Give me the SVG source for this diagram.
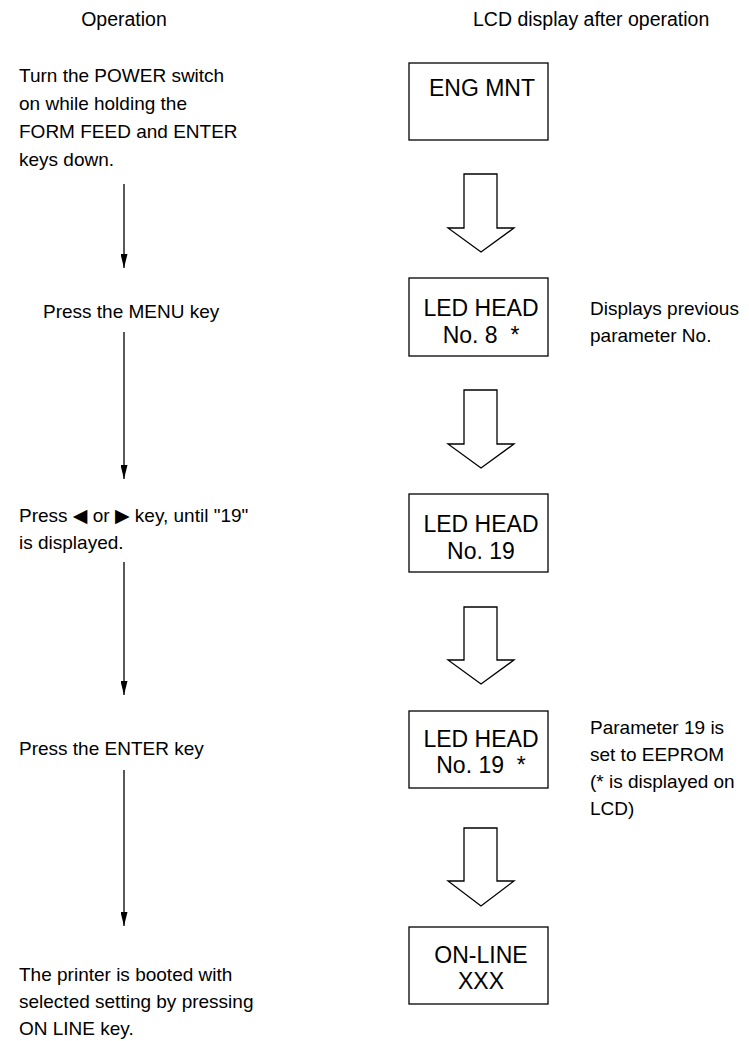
<svg xmlns="http://www.w3.org/2000/svg" width="749" height="1041" viewBox="0 0 749 1041">
<style>
text{font-family:"Liberation Sans",Arial,sans-serif;fill:#000}
.h{font-size:19.5px}
.t{font-size:19px}
.b{font-size:23px;text-anchor:middle}
.box{fill:#fff;stroke:#000;stroke-width:1.3}
.ha{fill:#fff;stroke:#000;stroke-width:1.3;stroke-linejoin:miter}
.ln{stroke:#000;stroke-width:1.3;fill:none}
.sym{font-family:"DejaVu Sans",sans-serif}
</style>
<defs>
<marker id="ah" viewBox="0 0 14 7" refX="14" refY="3.5" markerWidth="14" markerHeight="7" markerUnits="userSpaceOnUse" orient="auto">
<path d="M0,0 L14,3.5 L0,7 z" fill="#000"/>
</marker>
</defs>
<g id="headers">
<text class="h" x="124" y="26" text-anchor="middle">Operation</text>
<text class="h" x="473" y="26">LCD display after operation</text>
</g>
<g id="op1">
<text class="t" x="19" y="82">Turn the POWER switch</text>
<text class="t" x="19" y="110">on while holding the</text>
<text class="t" x="19" y="138">FORM FEED and ENTER</text>
<text class="t" x="19" y="166">keys down.</text>
</g>
<g id="op2"><text class="t" x="43" y="318">Press the MENU key</text></g>
<g id="op3">
<text class="t" x="19" y="522">Press <tspan class="sym">◀</tspan> or <tspan class="sym">▶</tspan> key, until "19"</text>
<text class="t" x="19" y="549">is displayed.</text>
</g>
<g id="op4"><text class="t" x="19" y="755">Press the ENTER key</text></g>
<g id="op5">
<text class="t" x="19" y="981">The printer is booted with</text>
<text class="t" x="19" y="1008">selected setting by pressing</text>
<text class="t" x="19" y="1035">ON LINE key.</text>
</g>
<g id="lcd1"><rect class="box" x="409" y="63" width="139" height="77"/><text class="b" x="482" y="96">ENG MNT</text></g>
<g id="lcd2"><rect class="box" x="409" y="278" width="139" height="78"/><text class="b" x="481" y="316">LED HEAD</text><text class="b" x="481" y="343" xml:space="preserve">No. 8  *</text></g>
<g id="lcd3"><rect class="box" x="409" y="494" width="139" height="78"/><text class="b" x="481" y="532">LED HEAD</text><text class="b" x="481" y="559">No. 19</text></g>
<g id="lcd4"><rect class="box" x="409" y="711" width="139" height="77"/><text class="b" x="481" y="747">LED HEAD</text><text class="b" x="481" y="773" xml:space="preserve">No. 19  *</text></g>
<g id="lcd5"><rect class="box" x="409" y="927" width="139" height="77"/><text class="b" x="481" y="963">ON-LINE</text><text class="b" x="481" y="989">XXX</text></g>
<g id="note1">
<text class="t" x="590" y="315">Displays previous</text>
<text class="t" x="590" y="342">parameter No.</text>
</g>
<g id="note2">
<text class="t" x="590" y="734">Parameter 19 is</text>
<text class="t" x="590" y="761">set to EEPROM</text>
<text class="t" x="590" y="788">(* is displayed on</text>
<text class="t" x="590" y="815">LCD)</text>
</g>
<g id="connectors">
<line class="ln" x1="124" y1="184" x2="124" y2="268" marker-end="url(#ah)"/>
<line class="ln" x1="124" y1="332" x2="124" y2="479" marker-end="url(#ah)"/>
<line class="ln" x1="124" y1="562" x2="124" y2="695" marker-end="url(#ah)"/>
<line class="ln" x1="124" y1="770" x2="124" y2="926" marker-end="url(#ah)"/>
<polygon class="ha" points="464,174 497,174 497,228 514,228 481,252 448,228 464,228"/>
<polygon class="ha" points="464,390 497,390 497,444 514,444 481,468 448,444 464,444"/>
<polygon class="ha" points="464,607 497,607 497,660 514,660 481,684 448,660 464,660"/>
<polygon class="ha" points="464,828 497,828 497,881 514,881 481,906 448,881 464,881"/>
</g>
</svg>
